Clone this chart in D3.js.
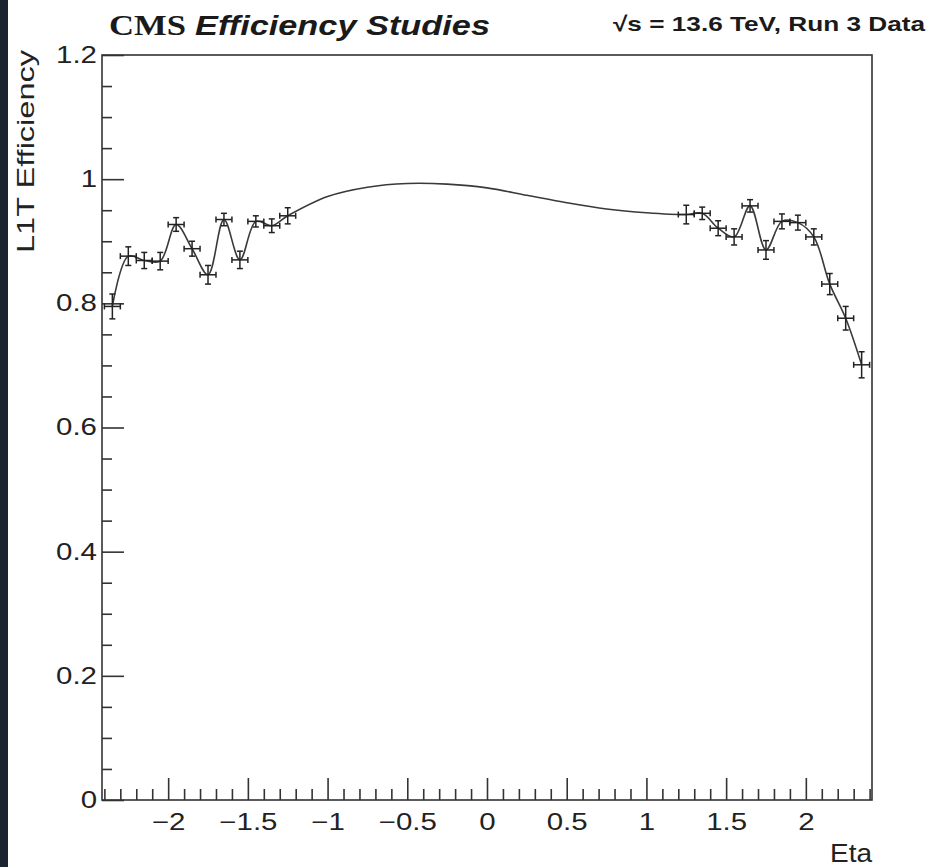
<!DOCTYPE html>
<html>
<head>
<meta charset="utf-8">
<script src="https://cdn.jsdelivr.net/npm/d3@7"></script>
<style>
  html, body { margin: 0; padding: 0; background: #ffffff; }
  svg { display: block; }
</style>
</head>
<body>
<script>
// ---- Data ----
const eta = [-2.35, -2.25, -2.15, -2.05, -1.95, -1.85, -1.75, -1.65, -1.55, -1.45, -1.35, -1.25,
              1.25, 1.35, 1.45, 1.55, 1.65, 1.75, 1.85, 1.95, 2.05, 2.15, 2.25, 2.35];
const efficiency = [0.795, 0.876, 0.869, 0.868, 0.927, 0.888, 0.846, 0.935, 0.870, 0.932, 0.925, 0.941,
                    0.943, 0.945, 0.921, 0.907, 0.957, 0.886, 0.932, 0.930, 0.907, 0.831, 0.776, 0.701];
const efficiencyErr = [0.020, 0.015, 0.013, 0.014, 0.011, 0.012, 0.015, 0.010, 0.014, 0.009, 0.011, 0.013,
                       0.015, 0.010, 0.012, 0.013, 0.010, 0.015, 0.012, 0.012, 0.013, 0.017, 0.019, 0.021];
const etaHalfWidth = 0.05;
// smooth curve drawn through the gap
const smoothCurveEta = [-1.0, -0.75, -0.5, -0.25, 0.0, 0.25, 0.5, 0.75, 1.0];
const smoothCurveEff = [0.972, 0.987, 0.993, 0.992, 0.986, 0.974, 0.962, 0.952, 0.946];

const xMajorTicks = [-2, -1.5, -1, -0.5, 0, 0.5, 1, 1.5, 2];
const yMajorTicks = [0, 0.2, 0.4, 0.6, 0.8, 1.0, 1.2];
const xTitle = "Eta";
const yTitle = "L1T Efficiency";
const titleCMS = "CMS";
const titleMain = "Efficiency Studies";
const titleRight = "√s = 13.6 TeV, Run 3 Data";

// ---- Layout ----
const W = 933, H = 867;
const pLeft = 102, pRight = 872, pTop = 55, pBottom = 800;
const SX = 1.28; // horizontal glyph stretch seen in reference

const svg = d3.select("body").append("svg").attr("width", W).attr("height", H);
svg.append("rect").attr("width", W).attr("height", H).attr("fill", "#ffffff");
svg.append("rect").attr("x", 0).attr("y", 0).attr("width", 8).attr("height", H).attr("fill", "#1c2331");

const x = d3.scaleLinear().domain([-2.415, 2.415]).range([pLeft, pRight]);
const y = d3.scaleLinear().domain([0, 1.2]).range([pBottom, pTop]);

const fmt = d => (d < 0 ? "\u2212" : "") + String(Math.abs(+d.toFixed(2)));

// minor ticks
const xMinor = d3.range(-24, 25).map(i => i / 10).filter(v => Math.abs(v * 2 - Math.round(v * 2)) > 1e-6);
const yMinor = d3.range(0, 25).map(i => i * 0.05).filter(v => Math.abs(v * 5 - Math.round(v * 5)) > 1e-6);

const axisColor = "#333";

const gxMinor = svg.append("g").attr("transform", `translate(0,${pBottom})`)
  .call(d3.axisBottom(x).tickValues(xMinor).tickSizeInner(-11).tickSizeOuter(0).tickFormat(""));
const gx = svg.append("g").attr("transform", `translate(0,${pBottom})`)
  .call(d3.axisBottom(x).tickValues(xMajorTicks).tickSizeInner(-22).tickSizeOuter(0).tickPadding(14).tickFormat(fmt));
const gyMinor = svg.append("g").attr("transform", `translate(${pLeft},0)`)
  .call(d3.axisLeft(y).tickValues(yMinor).tickSizeInner(-10).tickSizeOuter(0).tickFormat(""));
const gy = svg.append("g").attr("transform", `translate(${pLeft},0)`)
  .call(d3.axisLeft(y).tickValues(yMajorTicks).tickSizeInner(-22).tickSizeOuter(0).tickPadding(5).tickFormat(d => String(+d.toFixed(1))));

[gx, gy, gxMinor, gyMinor].forEach(g => {
  g.select(".domain").remove();
  g.selectAll(".tick line").attr("stroke", axisColor).attr("stroke-width", 1.6);
});
[gx, gy].forEach(g => {
  g.selectAll(".tick text")
    .attr("fill", "#222")
    .style("font-family", "'Liberation Sans', Arial, sans-serif")
    .style("font-size", "23px");
});
gx.selectAll(".tick text").attr("transform", `scale(${SX},1)`);
gy.selectAll(".tick text").attr("x", -5 / SX).attr("transform", `scale(${SX},1)`);

// frame
svg.append("rect").attr("x", pLeft).attr("y", pTop).attr("width", pRight - pLeft).attr("height", pBottom - pTop)
  .attr("fill", "none").attr("stroke", axisColor).attr("stroke-width", 1.6);

// clip
svg.append("clipPath").attr("id", "clip").append("rect")
  .attr("x", pLeft).attr("y", pTop).attr("width", pRight - pLeft).attr("height", pBottom - pTop);
const plot = svg.append("g").attr("clip-path", "url(#clip)");

// smooth curve through all points
const pts = eta.map((e, i) => [e, efficiency[i]])
  .concat(smoothCurveEta.map((e, i) => [e, smoothCurveEff[i]]))
  .sort((a, b) => a[0] - b[0]);
plot.append("path")
  .attr("d", d3.line().x(d => x(d[0])).y(d => y(d[1])).curve(d3.curveCatmullRom.alpha(0.5))(pts))
  .attr("fill", "none").attr("stroke", "#3a3a3a").attr("stroke-width", 1.6);

// error bars
const cap = 3;
const eb = plot.append("g").attr("stroke", "#222").attr("stroke-width", 1.5).attr("fill", "none");
eta.forEach((e, i) => {
  const cx = x(e), cy = y(efficiency[i]);
  const x0 = x(e - etaHalfWidth), x1 = x(e + etaHalfWidth);
  const y0 = y(efficiency[i] - efficiencyErr[i]), y1 = y(efficiency[i] + efficiencyErr[i]);
  const g = eb.append("g");
  g.append("line").attr("x1", x0).attr("x2", x1).attr("y1", cy).attr("y2", cy);
  g.append("line").attr("x1", cx).attr("x2", cx).attr("y1", y0).attr("y2", y1);
  g.append("line").attr("x1", x0).attr("x2", x0).attr("y1", cy - cap).attr("y2", cy + cap);
  g.append("line").attr("x1", x1).attr("x2", x1).attr("y1", cy - cap).attr("y2", cy + cap);
  g.append("line").attr("x1", cx - cap).attr("x2", cx + cap).attr("y1", y0).attr("y2", y0);
  g.append("line").attr("x1", cx - cap).attr("x2", cx + cap).attr("y1", y1).attr("y2", y1);
});

// titles
svg.append("text").text(titleCMS)
  .attr("x", 109).attr("y", 35)
  .attr("textLength", 77).attr("lengthAdjust", "spacingAndGlyphs")
  .style("font-family", "'Liberation Serif', 'Times New Roman', serif")
  .style("font-weight", "bold").style("font-size", "29px").attr("fill", "#1a1a1a");
svg.append("text").text(titleMain)
  .attr("x", 195).attr("y", 35)
  .attr("textLength", 295).attr("lengthAdjust", "spacingAndGlyphs")
  .style("font-family", "'Liberation Sans', Arial, sans-serif")
  .style("font-weight", "bold").style("font-style", "italic").style("font-size", "28px").attr("fill", "#1a1a1a");
svg.append("text").text(titleRight)
  .attr("x", 613).attr("y", 31)
  .attr("textLength", 312).attr("lengthAdjust", "spacingAndGlyphs")
  .style("font-family", "'Liberation Sans', Arial, sans-serif")
  .style("font-weight", "bold").style("font-size", "21px").attr("fill", "#1a1a1a");

// axis titles
svg.append("text").text(xTitle)
  .attr("x", 872 - 42).attr("y", 862)
  .attr("textLength", 42).attr("lengthAdjust", "spacingAndGlyphs")
  .style("font-family", "'Liberation Sans', Arial, sans-serif")
  .style("font-size", "25px").attr("fill", "#222");
svg.append("text").text(yTitle)
  .attr("transform", "translate(34,50) rotate(-90)")
  .attr("x", -203).attr("y", 0)
  .attr("textLength", 203).attr("lengthAdjust", "spacingAndGlyphs")
  .style("font-family", "'Liberation Sans', Arial, sans-serif")
  .style("font-size", "24px").attr("fill", "#222");
</script>
</body>
</html>
